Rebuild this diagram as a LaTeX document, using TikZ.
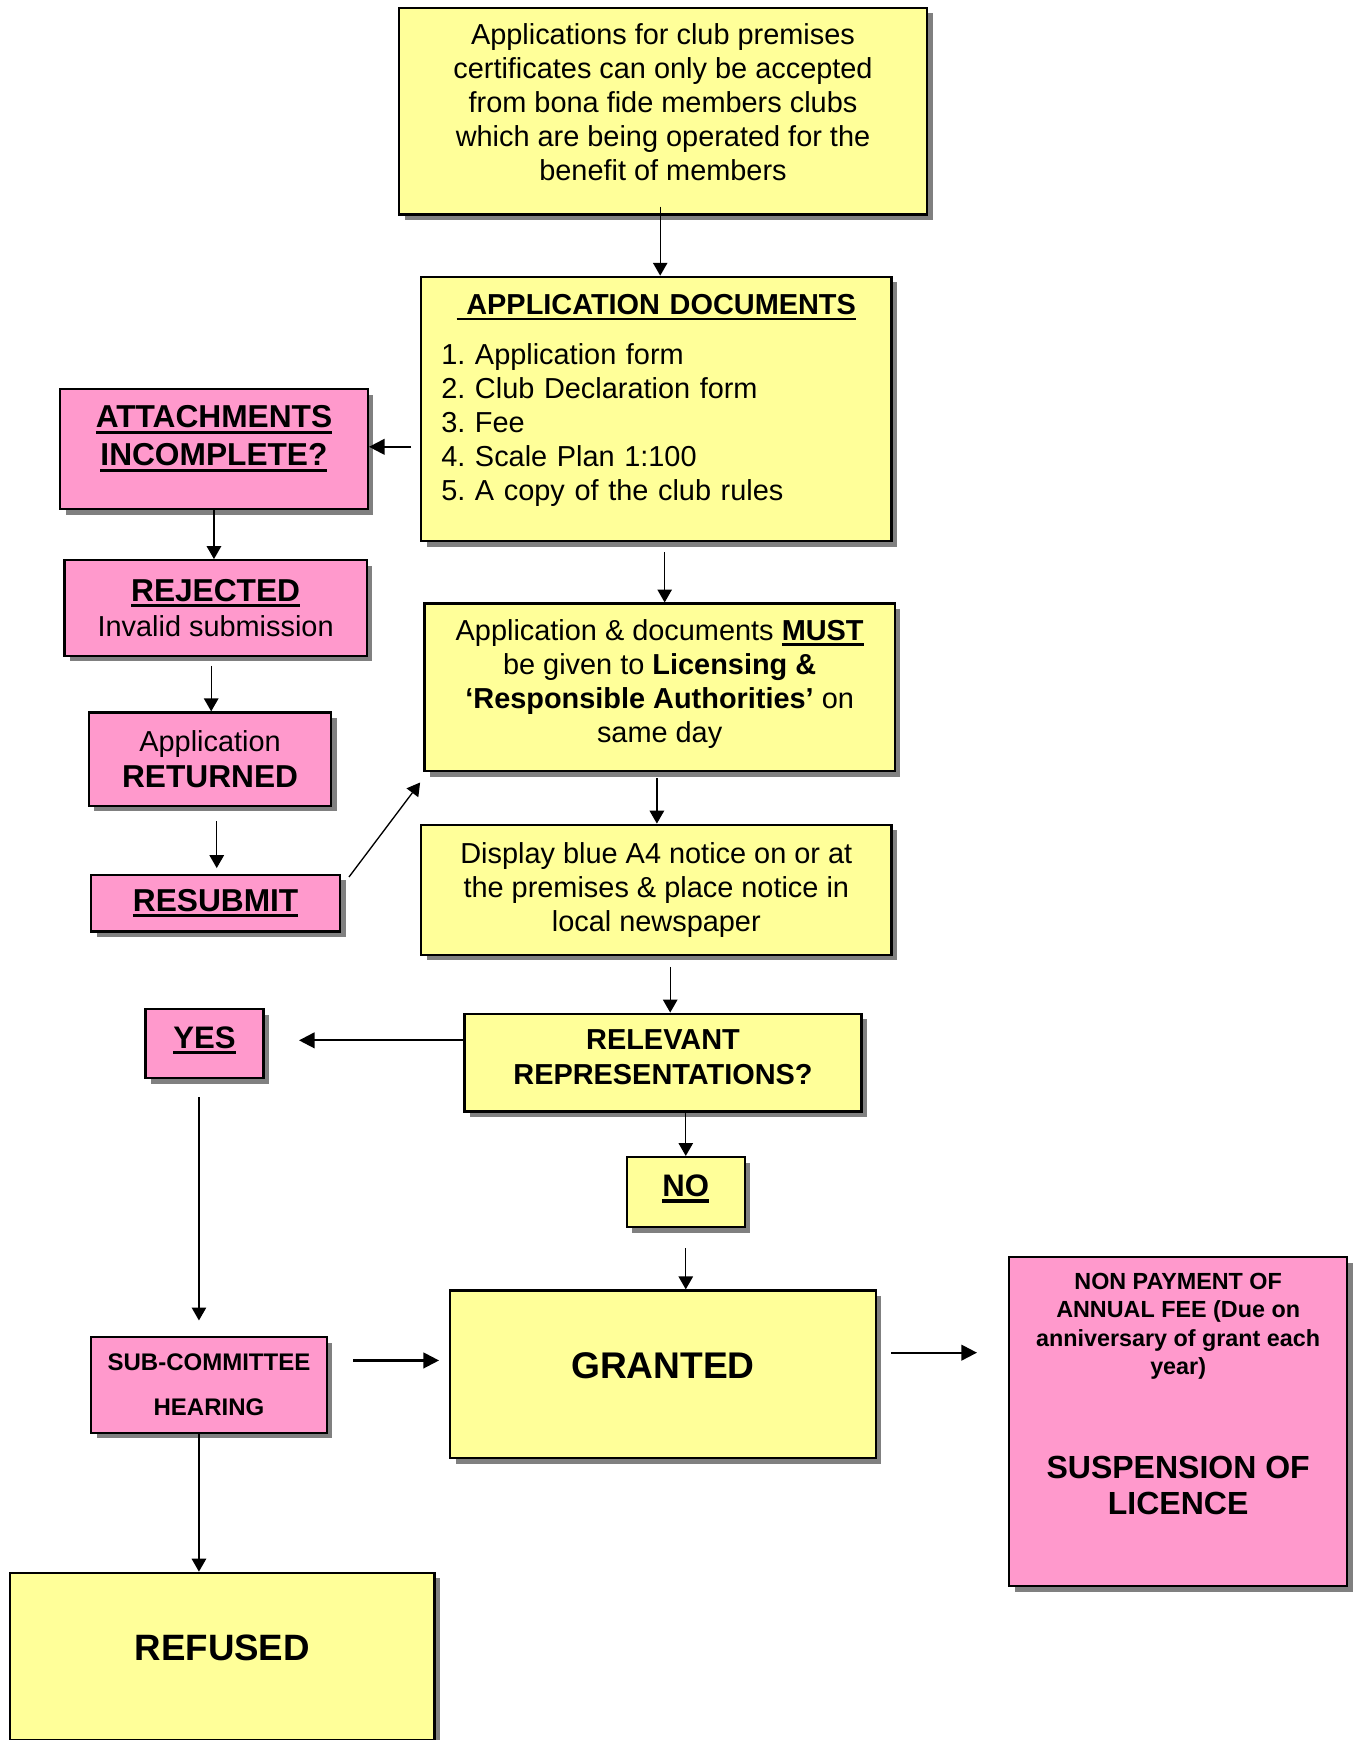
\documentclass[tikz,border=0pt]{standalone}
\usepackage{fontspec}
\setmainfont{Liberation Sans}
\usetikzlibrary{arrows.meta,shadows}
\definecolor{boxyellow}{HTML}{FFFF99}
\definecolor{boxpink}{HTML}{FF99CC}
\definecolor{shadowgray}{HTML}{808080}
\frenchspacing
\newcommand{\setfs}[2]{\fontsize{#1}{#2}\selectfont}
\newcommand{\ulbox}[1]{\setbox0=\hbox{#1}\rlap{\rule[-0.19em]{\wd0}{0.1em}}\box0}
\tikzset{
  card/.style={draw, line width=1pt, inner sep=0pt, align=center,
    drop shadow={shadow xshift=2.5pt, shadow yshift=-2.5pt, fill=shadowgray, opacity=1}},
  yellowcard/.style={card, fill=boxyellow},
  pinkcard/.style={card, fill=boxpink},
  flow/.style={-{Triangle[length=5.8pt,width=6.5pt]}, line width=0.6pt},
  boldflow/.style={-{Triangle[length=7pt,width=7pt]}, line width=1pt},
}
\begin{document}
\begin{tikzpicture}[x=0.5pt, y=-0.5pt]
  \useasboundingbox (0,0) rectangle (1220,1565.5);
  % main column
  \node[yellowcard, minimum width=237.5pt, minimum height=93pt, font=\setfs{13}{15.25}] (intro) at (596.5,100)
    {Applications for club premises\\certificates can only be accepted\\from bona fide members clubs\\which are being operated for the\\benefit of members\\[-7.25pt]\mbox{}};
  \node[yellowcard, minimum width=211.5pt, minimum height=119pt, text width=193.5pt, align=left, font=\setfs{13}{15.25}] (docs) at (590.5,368)
    {\makebox[\hsize]{\ulbox{\bfseries\ APPLICATION DOCUMENTS}}\\[7.25pt]
     1. Application form\\2. Club Declaration form\\3. Fee\\4. Scale Plan 1:100\\5. A copy of the club rules\\[-5pt]\mbox{}};
  \node[yellowcard, minimum width=211.5pt, minimum height=75.5pt, font=\setfs{13}{15.25}] (must) at (593.5,618.5)
    {Application \& documents \ulbox{\bfseries MUST}\\be given to \textbf{Licensing \&}\\\textbf{‘Responsible Authorities’} on\\same day\\[-9.5pt]\mbox{}};
  \node[yellowcard, minimum width=211.5pt, minimum height=58.5pt, font=\setfs{13}{15.25}] (display) at (590.5,800.5)
    {Display blue A4 notice on or at\\the premises \& place notice in\\local newspaper};
  \node[yellowcard, minimum width=178.5pt, minimum height=44pt, font=\setfs{13}{15.5}\bfseries] (relevant) at (596.5,956)
    {RELEVANT\\REPRESENTATIONS?\\[-10.5pt]\mbox{}};
  \node[yellowcard, minimum width=53pt, minimum height=31.5pt, font=\setfs{14}{16}\bfseries] (no) at (617,1072.5)
    {\ulbox{NO}\\[-10.3pt]\mbox{}};
  \node[yellowcard, minimum width=191.5pt, minimum height=75.5pt, font=\setfs{16.7}{19}\bfseries] (granted) at (596.5,1236.5)
    {GRANTED\\[-11pt]\mbox{}};
  % left column
  \node[pinkcard, minimum width=138.5pt, minimum height=54pt, font=\setfs{14.25}{17}\bfseries] (attach) at (192.5,404)
    {\ulbox{ATTACHMENTS}\\\ulbox{INCOMPLETE?}\\[-5pt]\mbox{}};
  \node[pinkcard, minimum width=136pt, minimum height=43pt, font=\setfs{13}{16}] (reject) at (194,547)
    {\setfs{14.25}{16}\ulbox{\bfseries REJECTED}\\Invalid submission};
  \node[pinkcard, minimum width=109pt, minimum height=42pt, font=\setfs{13}{16}] (returned) at (189,683)
    {Application\\\setfs{14.25}{16}\bfseries RETURNED};
  \node[pinkcard, minimum width=112pt, minimum height=25.5pt, font=\setfs{14.25}{16}\bfseries] (resubmit) at (194,812.5)
    {\ulbox{RESUBMIT}};
  \node[pinkcard, minimum width=53pt, minimum height=31pt, font=\setfs{14}{16}\bfseries] (yes) at (184,939)
    {\ulbox{YES}\\[-10.3pt]\mbox{}};
  \node[pinkcard, minimum width=106pt, minimum height=43pt, font=\setfs{10.8}{20}\bfseries] (subcom) at (188,1246)
    {SUB-COMMITTEE\\HEARING};
  \node[yellowcard, minimum width=191pt, minimum height=75.5pt, font=\setfs{16.5}{19}\bfseries] (refused) at (200,1490.5)
    {REFUSED\\[-11pt]\mbox{}};
  % right
  \node[pinkcard, minimum width=152pt, minimum height=148pt, font=\setfs{10.5}{12.75}\bfseries] (nonpay) at (1060,1279)
    {NON PAYMENT OF\\ANNUAL FEE (Due on\\anniversary of grant each\\year)\\[34.25pt]
     \setfs{14.4}{16}SUSPENSION OF\\[3.25pt]\setfs{14.4}{16}LICENCE\\[12.25pt]\mbox{}};
  % arrows
  \draw[flow, shorten <=-4pt] ([xshift=-1.25pt]intro.south) -- ([xshift=-1.25pt]intro.south |- docs.north);
  \draw[boldflow, shorten <=4pt] ([yshift=-17pt]docs.west) -- ([yshift=-17pt]docs.west -| attach.east);
  \draw[flow] (attach.south) -- (attach.south |- reject.north);
  \draw[flow, shorten <=4pt] ([xshift=-2pt]reject.south) -- ([xshift=-2pt]reject.south |- returned.north);
  \draw[flow, shorten <=6.5pt, shorten >=2.5pt] ([xshift=3pt]returned.south) -- ([xshift=3pt]returned.south |- resubmit.north);
  \draw[flow] ([xshift=3.5pt,yshift=-1.5pt]resubmit.north east) -- ([xshift=-1.5pt,yshift=-4.5pt]must.south west);
  \draw[flow, shorten <=4.5pt] ([xshift=3.75pt]docs.south) -- ([xshift=3.75pt]docs.south |- must.north);
  \draw[flow, shorten <=2.5pt] ([xshift=-1.25pt]must.south) -- ([xshift=-1.25pt]must.south |- display.north);
  \draw[flow, shorten <=5pt] ([xshift=6.25pt]display.south) -- ([xshift=6.25pt]display.south |- relevant.north);
  \draw[boldflow, shorten >=15.5pt] ([yshift=10pt]relevant.west) -- ([yshift=10pt]relevant.west -| yes.east);
  \draw[flow] (relevant.south -| no.north) -- (no.north);
  \draw[flow, shorten <=9pt] (no.south) -- (no.south |- granted.north);
  \draw[flow, shorten <=8pt, shorten >=7pt] ([xshift=-2.5pt]yes.south) -- ([xshift=-2.5pt]yes.south |- subcom.north);
  \draw[boldflow, shorten <=11.5pt, shorten >=4.5pt] ([yshift=11pt]subcom.east) -- ([yshift=11pt]subcom.east -| granted.west);
  \draw[boldflow, shorten <=6.5pt, shorten >=14pt] ([yshift=9.75pt]granted.east) -- ([yshift=9.75pt]granted.east -| nonpay.west);
  \draw[flow] ([xshift=-4.5pt]subcom.south) -- ([xshift=-4.5pt]subcom.south |- refused.north);
\end{tikzpicture}
\end{document}
